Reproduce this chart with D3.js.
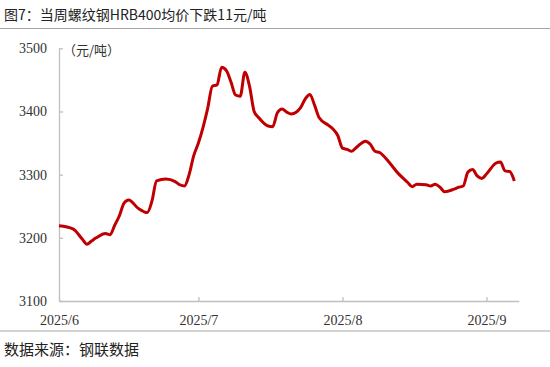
<!DOCTYPE html>
<html><head><meta charset="utf-8">
<script src="https://cdn.jsdelivr.net/npm/d3@7/dist/d3.min.js"></script>
<style>body{margin:0;background:#fff}svg{display:block}</style>
</head><body>
<script>
const titleText = "图7：当周螺纹钢HRB400均价下跌11元/吨";
const sourceText = "数据来源：钢联数据";
const unitText = "（元/吨）";
const dates = ["2025-06-01","2025-06-04","2025-06-06","2025-06-07","2025-06-08","2025-06-09","2025-06-11","2025-06-12","2025-06-13","2025-06-14","2025-06-15","2025-06-16","2025-06-18","2025-06-20","2025-06-21","2025-06-22","2025-06-24","2025-06-26","2025-06-27","2025-06-28","2025-06-29","2025-06-30","2025-07-01","2025-07-02","2025-07-03","2025-07-04","2025-07-05","2025-07-06","2025-07-07","2025-07-08","2025-07-09","2025-07-10","2025-07-11","2025-07-12","2025-07-13","2025-07-14","2025-07-16","2025-07-17","2025-07-18","2025-07-19","2025-07-20","2025-07-21","2025-07-23","2025-07-24","2025-07-25","2025-07-26","2025-07-27","2025-07-29","2025-07-30","2025-07-31","2025-08-01","2025-08-02","2025-08-03","2025-08-04","2025-08-06","2025-08-07","2025-08-08","2025-08-09","2025-08-11","2025-08-13","2025-08-15","2025-08-16","2025-08-17","2025-08-19","2025-08-20","2025-08-21","2025-08-22","2025-08-23","2025-08-25","2025-08-26","2025-08-27","2025-08-28","2025-08-29","2025-08-30","2025-08-31","2025-09-01","2025-09-03","2025-09-04","2025-09-05","2025-09-06","2025-09-07"];
const prices = [3219,3214,3198,3190,3195,3200,3207,3205,3220,3235,3255,3260,3247,3240,3258,3290,3293,3289,3284,3282,3300,3330,3350,3375,3405,3440,3442,3470,3465,3447,3426,3424,3462,3440,3400,3390,3377,3376,3398,3404,3399,3396,3406,3420,3427,3410,3390,3378,3372,3362,3342,3340,3337,3343,3353,3348,3337,3335,3320,3302,3288,3281,3285,3284,3282,3285,3280,3273,3277,3280,3282,3304,3308,3298,3294,3301,3318,3320,3306,3305,3290];
const yTicks = [3100,3200,3300,3400,3500];
const xTickDates = ["2025-06-01","2025-07-01","2025-08-01","2025-09-01"];
const xTickLabels = ["2025/6","2025/7","2025/8","2025/9"];

const W = 550, H = 367;
const svg = d3.select("body").append("svg").attr("width", W).attr("height", H);
const parse = d3.utcParse("%Y-%m-%d");
const data = dates.map((d,i)=>({date: parse(d), v: prices[i]}));

const x = d3.scaleUtc().domain([parse("2025-06-01"), parse("2025-09-08")]).range([59, 519]);
const y = d3.scaleLinear().domain([3100, 3500]).range([301, 48.3]);

// title
svg.append("text").attr("x", 4).attr("y", 20)
  .attr("font-family", "'Noto Sans CJK SC', sans-serif").attr("font-size", 14)
  .attr("fill", "#222").text(titleText);
svg.append("line").attr("x1", 0).attr("x2", W).attr("y1", 28.5).attr("y2", 28.5)
  .attr("stroke", "#a6a6a6").attr("stroke-width", 1.2);

// axes
const yAxis = d3.axisLeft(y).tickValues(yTicks).tickSize(-4).tickPadding(12).tickFormat(d3.format("d"));
const gy = svg.append("g").attr("transform", "translate(59,0)").call(yAxis);
const xAxis = d3.axisBottom(x).tickValues(xTickDates.map(parse)).tickSize(-4).tickPadding(14)
  .tickFormat((d,i)=>xTickLabels[i]);
const gx = svg.append("g").attr("transform", "translate(0,301)").call(xAxis);
[gx, gy].forEach(g=>{
  g.select(".domain").attr("stroke", "#bfbfbf").attr("stroke-width", 1.3);
  g.selectAll(".tick line").attr("stroke", "#bfbfbf").attr("stroke-width", 1.3);
  g.selectAll("text").attr("font-family", "'Liberation Serif', 'Times New Roman', serif")
    .attr("font-size", 14).attr("fill", "#333");
});
gx.select(".domain").attr("d", "M59,0.5H519.3");
gy.select(".domain").attr("d", "M0.5,48.3V301");

// unit
svg.append("text").attr("x", 63).attr("y", 55)
  .attr("font-family", "'Noto Sans CJK SC', sans-serif").attr("font-size", 13)
  .attr("fill", "#333").text(unitText);

// line
const line = d3.line().x(d=>x(d.date)).y(d=>y(d.v)).curve(d3.curveMonotoneX);
svg.append("path").datum(data).attr("d", line).attr("fill", "none")
  .attr("stroke", "#c00000").attr("stroke-width", 3).attr("stroke-linejoin", "round");

// source
svg.append("line").attr("x1", 0).attr("x2", W).attr("y1", 331).attr("y2", 331)
  .attr("stroke", "#a6a6a6").attr("stroke-width", 1.2);
svg.append("text").attr("x", 4).attr("y", 355)
  .attr("font-family", "'Noto Sans CJK SC', sans-serif").attr("font-size", 15)
  .attr("fill", "#222").text(sourceText);
</script>
</body></html>
